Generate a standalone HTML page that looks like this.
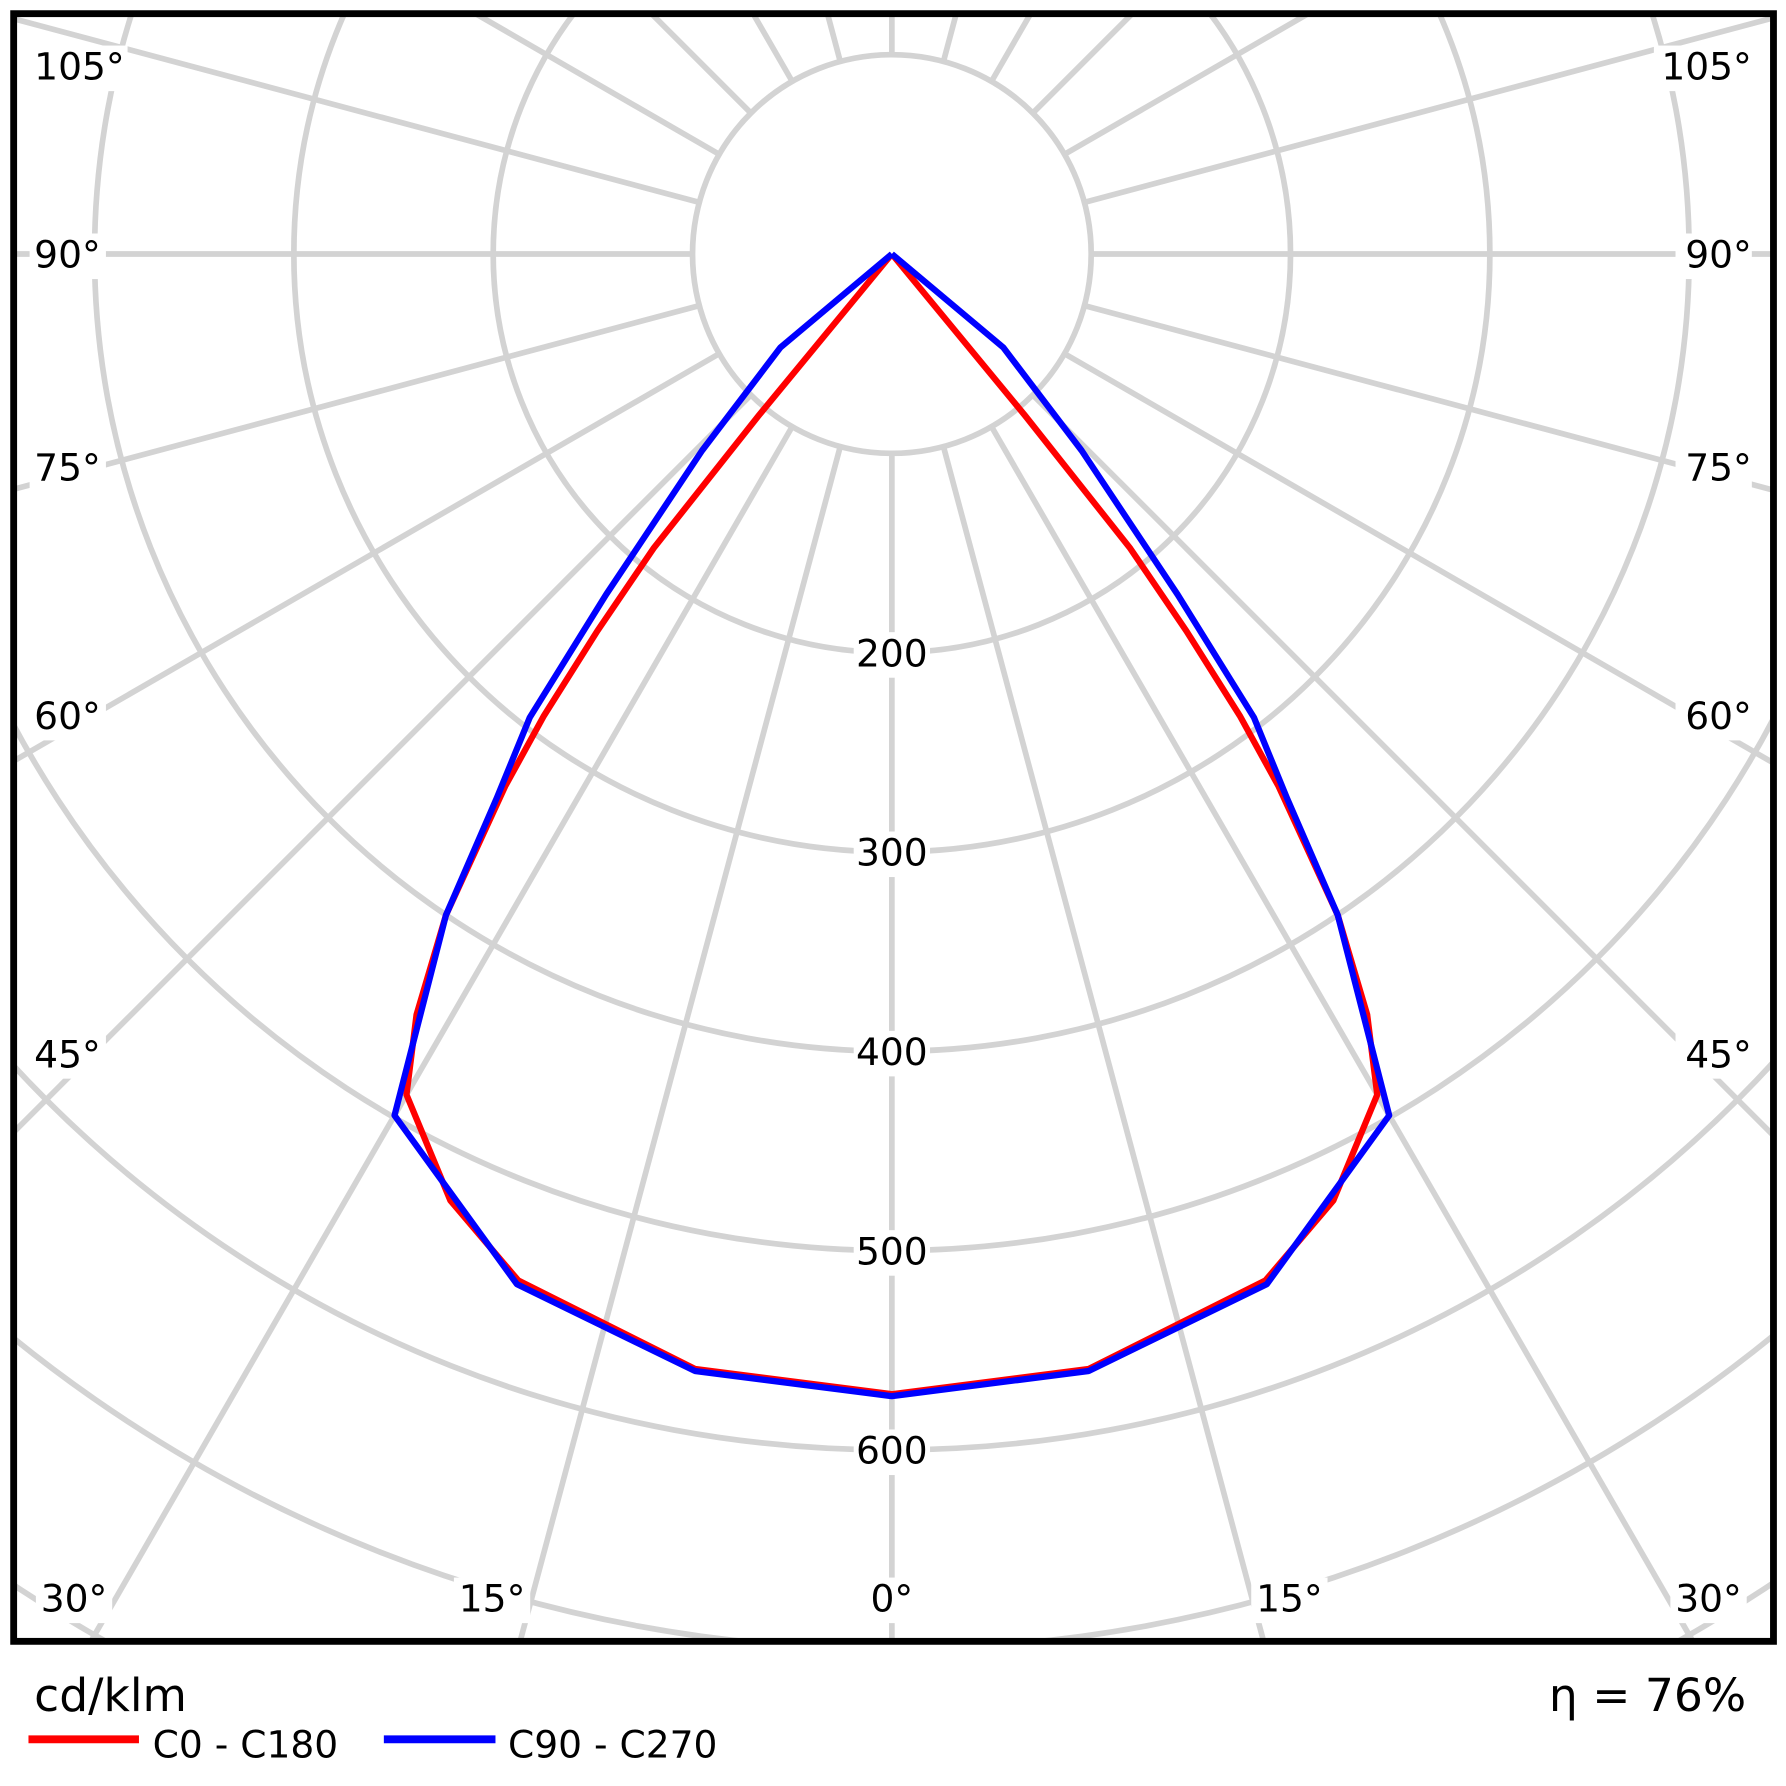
<!DOCTYPE html>
<html><head><meta charset="utf-8"><style>
html,body{margin:0;padding:0;background:#fff;overflow:hidden;width:1786px;height:1786px}
svg{display:block}
text{font-family:"DejaVu Sans","Liberation Sans",sans-serif}
</style></head><body>
<svg id="chart" width="1786" height="1786" viewBox="0 0 1568 1568" xmlns="http://www.w3.org/2000/svg">
<defs><clipPath id="clip"><rect x="12" y="12" width="1545" height="1429"/></clipPath></defs>
<rect x="0" y="0" width="1568" height="1568" fill="#fff"/>
<g id="grid" clip-path="url(#clip)"></g>
<g id="series" clip-path="url(#clip)"></g>
<g id="labels"></g>
<rect x="12" y="12" width="1545" height="1429" fill="none" stroke="#000" stroke-width="6"/>
<text x="30" y="1502" font-size="40">cd/klm</text>
<text x="1533" y="1502" font-size="40" text-anchor="end">η = 76%</text>
<line x1="25" y1="1527" x2="122" y2="1527" stroke="#f00" stroke-width="7"/>
<text x="134" y="1543" font-size="33">C0 - C180</text>
<line x1="337" y1="1527" x2="435" y2="1527" stroke="#00f" stroke-width="7"/>
<text x="446" y="1543" font-size="33">C90 - C270</text>
</svg>
<script>
const redAngles = [0,10,20,25,30,32,34,36,37,38,39,39.5,40];
const redValues = [572,568,548,524,487,450,400,330,290,240,190,105,0];
const blueAngles = [0,10,20,30,34,36,38,40,44,50,55];
const blueValues = [573,569,550,499,400,337,295,223,137,73,0];
const ringValues = [100,200,300,400,500,600,700,800,900,1000];
const ringLabels = ["200","300","400","500","600"];
const angleTicks = [0,15,30,45,60,75,90,105];

const NS="http://www.w3.org/2000/svg";
const cx=783, cy=223, k=1.75;
function rScale(v){return v*k;}
function pt(theta,v){const a=theta*Math.PI/180;return [cx+Math.sin(a)*rScale(v), cy+Math.cos(a)*rScale(v)];}
function mk(tag,attrs,parent){const e=document.createElementNS(NS,tag);for(const a in attrs)e.setAttribute(a,attrs[a]);parent.appendChild(e);return e;}
const grid=document.getElementById('grid'), series=document.getElementById('series'), labels=document.getElementById('labels');
const G="#d3d3d3";
ringValues.forEach(v=>{
  const c=mk('circle',{cx:cx,cy:cy,r:rScale(v),fill:'none',stroke:G,'stroke-width':5},grid);
  
  
});
for(let t=0;t<360;t+=15){
  const p1=pt(t,100), p2=pt(t,1200);
  const l=mk('line',{x1:p1[0],y1:p1[1],x2:p2[0],y2:p2[1],stroke:G,'stroke-width':5},grid);
  
  
}
function drawSeries(angles,values,color,name){
  const pts=[];
  for(let i=angles.length-1;i>=0;i--){const p=pt(-angles[i],values[i]);pts.push(p);}
  for(let i=1;i<angles.length;i++){const p=pt(angles[i],values[i]);pts.push(p);}
  const pl=mk('polyline',{points:pts.map(p=>p.join(',')).join(' '),fill:'none',stroke:color,'stroke-width':5.5,'stroke-linejoin':'round'},series);
  
  
}
drawSeries(redAngles,redValues,'#f00','series-c0-c180');
drawSeries(blueAngles,blueValues,'#00f','series-c90-c270');
function label(x,y,txt,name,anchor){
  const w=txt.length*19+10;
  const bx=anchor==='middle'?x-w/2:(anchor==='end'?x-w:x-4);
  const r=mk('rect',{x:bx,y:y-30,width:w,height:40,fill:'#fff'},labels);
  
  
  const t=mk('text',{x:x,y:y,'font-size':33,'text-anchor':anchor||'start','font-family':'"DejaVu Sans Condensed","DejaVu Sans",sans-serif'},labels);
  t.textContent=txt;
  
  
}
ringLabels.forEach((s,i)=>{const v=+s;label(cx,cy+rScale(v)+12,s,'ring-label-'+s,'middle');});
const sideY={105:70,90:235,75:422,60:640,45:937};
angleTicks.forEach(t=>{
  if(sideY[t]!==undefined){
    label(30,sideY[t],t+'°','angle-label-left-'+t,'start');
    label(1538,sideY[t],t+'°','angle-label-right-'+t,'end');
  }
});
label(65,1415,'30°','angle-label-left-30-bottom','middle');
label(432,1415,'15°','angle-label-left-15','middle');
label(783,1415,'0°','angle-label-0','middle');
label(1132,1415,'15°','angle-label-right-15','middle');
label(1500,1415,'30°','angle-label-right-30-bottom','middle');
</script>
</body></html>
